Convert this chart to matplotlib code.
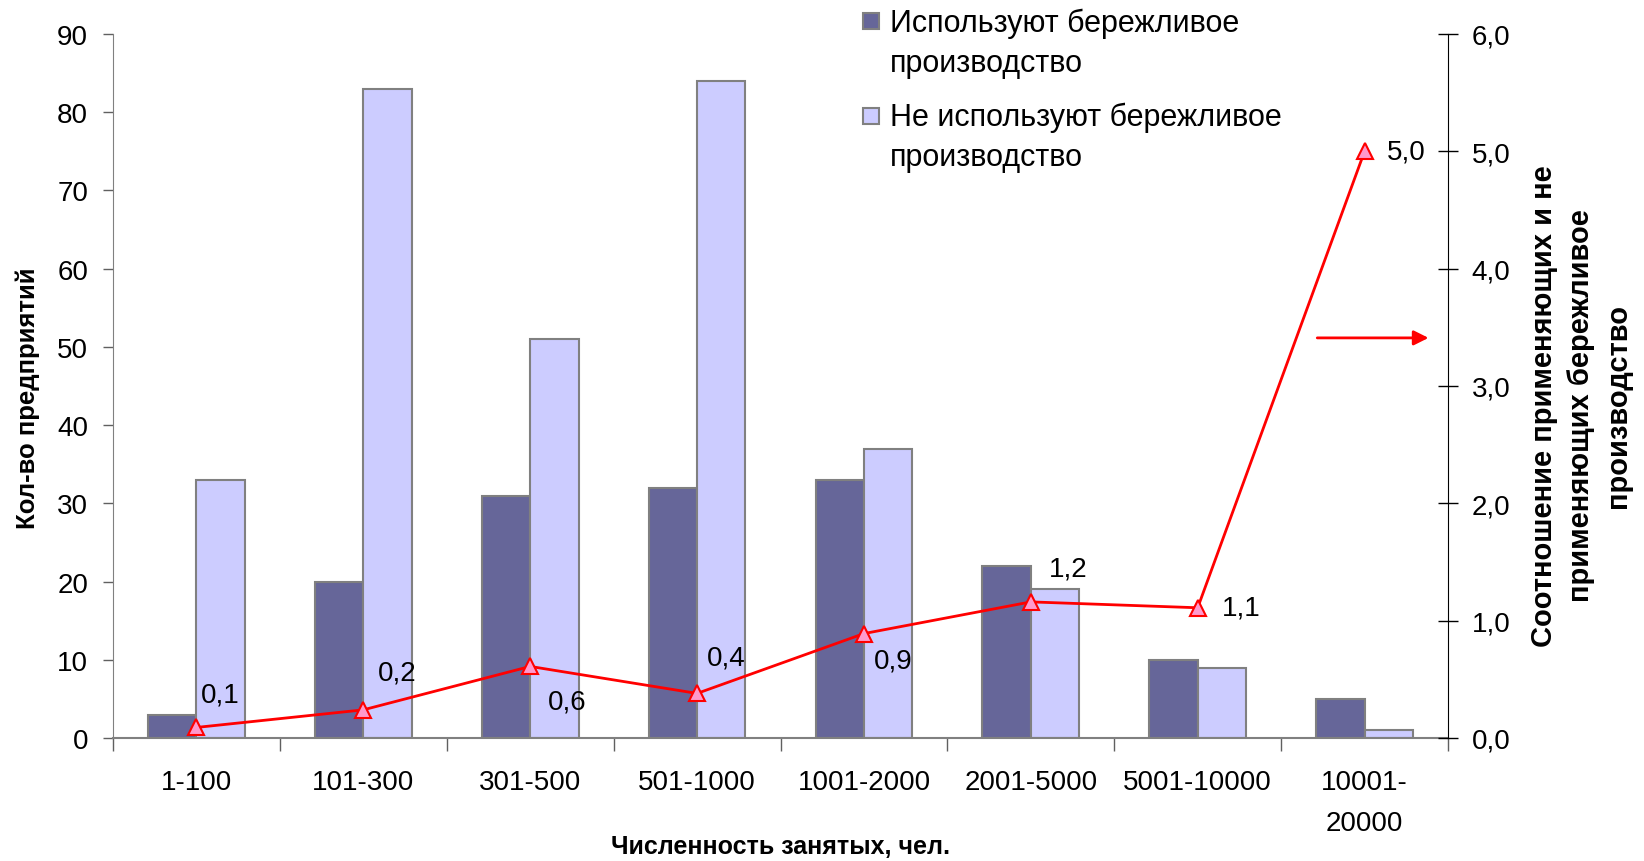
import numpy as np
import matplotlib.pyplot as plt
from matplotlib.patches import Rectangle

plt.rcParams['font.family'] = ['Liberation Sans', 'DejaVu Sans']

categories = ['1-100', '101-300', '301-500', '501-1000', '1001-2000',
              '2001-5000', '5001-10000', '10001-\n20000']
used = [3, 20, 31, 32, 33, 22, 10, 5]
not_used = [33, 83, 51, 84, 37, 19, 9, 1]
ratio = [0.09, 0.24, 0.61, 0.38, 0.89, 1.16, 1.11, 5.0]
ratio_labels = ['0,1', '0,2', '0,6', '0,4', '0,9', '1,2', '1,1', '5,0']

dark = '#666699'
light = '#CCCCFF'
edge = '#808080'

fig = plt.figure(figsize=(16.44, 8.62), dpi=100)
ax = fig.add_axes([113 / 1644, 1 - 739 / 862, (1448 - 113) / 1644, (739 - 35) / 862])
ax2 = ax.twinx()

x = np.arange(len(categories))
w = 0.29
ax.bar(x - w / 2, used, width=w, color=dark, edgecolor=edge, linewidth=1.5, zorder=2)
ax.bar(x + w / 2, not_used, width=w, color=light, edgecolor=edge, linewidth=1.5, zorder=2)

ax.set_xlim(-0.5, len(categories) - 0.5)
ax.set_ylim(0, 90)
ax.set_yticks(range(0, 91, 10))
ax.tick_params(axis='y', labelsize=20, direction='out', length=7, width=1, color='#606060', pad=11)
ax.set_xticks(x)
ax.set_xticklabels(categories, fontsize=20, linespacing=1.75)
ax.tick_params(axis='x', which='major', length=0, pad=22)
ax.set_xticks(np.arange(-0.5, len(categories)), minor=True)
ax.tick_params(axis='x', which='minor', length=9, width=1, color='#606060')

ax.spines['top'].set_visible(False)
ax.spines['right'].set_visible(False)
ax.spines['left'].set_color('#808080')
ax.spines['bottom'].set_color('#808080')
ax.spines['bottom'].set_linewidth(1.5)

ax.set_ylabel('Кол-во предприятий', fontsize=18.5, fontweight='bold', va='center')
ax.yaxis.set_label_coords(-0.0637, 0.484)
ax.set_xlabel('Численность занятых, чел.', fontsize=18, fontweight='bold', va='center')
ax.xaxis.set_label_coords(0.5, -0.153)

# ratio line
ax2.plot(x, ratio, color='red', linewidth=2, marker='^', markersize=11,
         markerfacecolor='#FF99CC', markeredgecolor='red', markeredgewidth=1.5, zorder=3)
ax2.set_ylim(0, 6)
ax2.set_yticks(np.arange(0, 6.1, 1))
ax2.set_yticklabels([f'{v:.1f}'.replace('.', ',') for v in np.arange(0, 6.1, 1)])
ax2.tick_params(axis='y', labelsize=20, direction='inout', length=14, width=1, pad=10)
for s in ['top', 'left', 'bottom']:
    ax2.spines[s].set_visible(False)
ax2.spines['right'].set_color('black')

ax2.set_ylabel('Соотношение применяющих и не\nприменяющих бережливое\nпроизводство',
               fontsize=21, fontweight='bold', rotation=90, linespacing=1.4, va='center')
ax2.yaxis.set_label_coords(1.0996, 0.473)

offsets = [(24, 33), (34, 37), (37, -35), (29, 36), (29, -27), (37, 33), (44, 0), (42, 0)]
for xi, yi, lab, off in zip(x, ratio, ratio_labels, offsets):
    ax2.annotate(lab, (xi, yi), xytext=off, textcoords='offset pixels', fontsize=20,
                 ha='center', va='center')

ax2.annotate('', xy=(7.4, 3.41), xytext=(6.7, 3.41),
             arrowprops=dict(arrowstyle='-|>', color='red', lw=2, mutation_scale=22))

# legend, drawn by hand so the square sits beside the first line
for i, (col, lab) in enumerate([(dark, 'Используют бережливое\nпроизводство'),
                                (light, 'Не используют бережливое\nпроизводство')]):
    sq_top = 14 + i * 95
    fig.add_artist(Rectangle((863 / 1644, 1 - (sq_top + 16) / 862), 16 / 1644, 16 / 862,
                             transform=fig.transFigure, facecolor=col, edgecolor=edge, lw=1.5))
    fig.text(890 / 1644, 1 - (9 + i * 94) / 862, lab, fontsize=22, va='top', ha='left',
             linespacing=1.4)

fig.savefig('out.png', dpi=100)
